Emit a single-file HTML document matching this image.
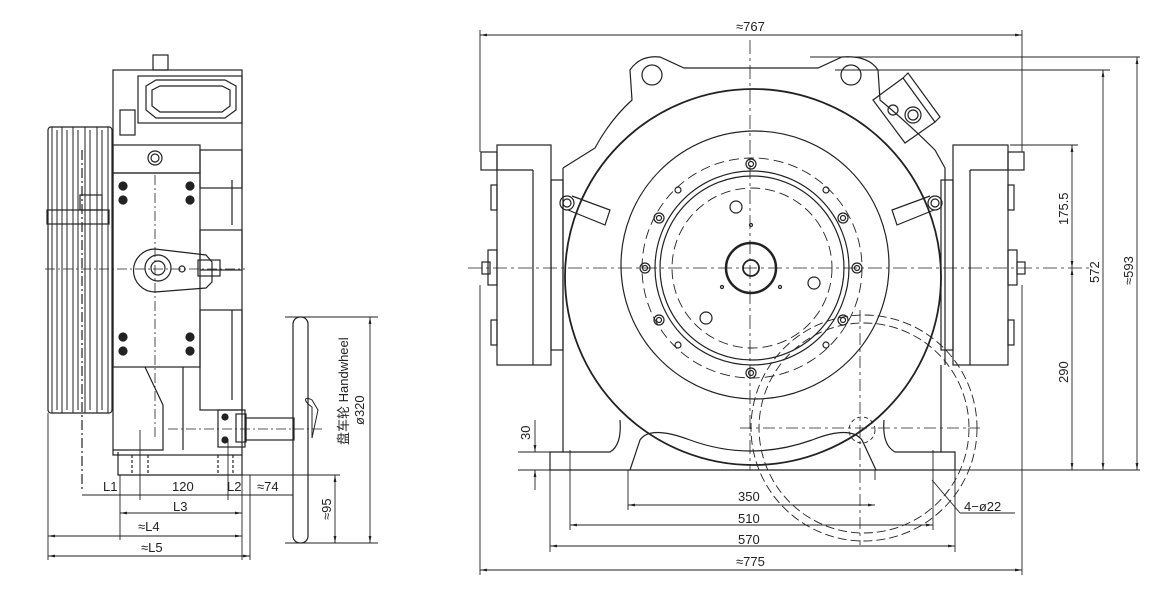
<!DOCTYPE html>
<html><head><meta charset="utf-8"><style>
html,body{margin:0;padding:0;background:#fff;}
svg{display:block;}
text{font-family:"Liberation Sans","Noto Sans CJK SC",sans-serif;font-size:13px;fill:#222;}
</style></head><body>
<svg width="1172" height="592" viewBox="0 0 1172 592" xmlns="http://www.w3.org/2000/svg">
<defs>
<marker id="a" viewBox="0 0 10 10" refX="10" refY="5" markerWidth="8" markerHeight="8" orient="auto-start-reverse"><path d="M0,3 L10,5 L0,7z" fill="#222"/></marker>
</defs>
<g fill="none" stroke="#222" stroke-width="1.2">
<!-- ============ LEFT VIEW ============ -->
<!-- sheave -->
<rect x="48" y="127" width="64" height="286" rx="3"/>
<g stroke-width="1">
<line x1="52" y1="127" x2="52" y2="413"/><line x1="57" y1="130" x2="57" y2="410"/>
<line x1="62" y1="127" x2="62" y2="413"/><line x1="67" y1="130" x2="67" y2="410"/>
<line x1="73" y1="127" x2="73" y2="413"/><line x1="78" y1="130" x2="78" y2="410"/>
<line x1="85" y1="127" x2="85" y2="413"/><line x1="90" y1="130" x2="90" y2="410"/>
<line x1="97" y1="127" x2="97" y2="413"/><line x1="102" y1="130" x2="102" y2="410"/>
<line x1="108" y1="127" x2="108" y2="413"/>
</g>
<rect x="47" y="210" width="62" height="14"/>
<rect x="80" y="195" width="22" height="15"/>
<line x1="82" y1="150" x2="82" y2="490" stroke-dasharray="10,3,2,3"/>
<!-- body -->
<rect x="113" y="70" width="129" height="385"/>
<rect x="153" y="55" width="15" height="15"/>
<rect x="138" y="76" width="104" height="47"/>
<path d="M146,86 L156,80 L225,80 L236,86 L236,110 L225,118 L156,118 L146,110z"/>
<path d="M152,90 L160,86 L222,86 L230,90 L230,106 L222,112 L160,112 L152,106z"/>
<rect x="120" y="110" width="15" height="25"/>
<rect x="113" y="145" width="87" height="28"/>
<circle cx="155" cy="158" r="7"/><circle cx="155" cy="158" r="4"/>
<rect x="113" y="173" width="87" height="194"/>
<rect x="200" y="150" width="42" height="38"/>
<rect x="200" y="230" width="42" height="40"/>
<rect x="200" y="310" width="42" height="100"/>
<line x1="232" y1="180" x2="232" y2="225"/><line x1="232" y1="310" x2="232" y2="400"/>
<g fill="#222"><circle cx="123" cy="186" r="4"/><circle cx="123" cy="200" r="4"/><circle cx="190" cy="186" r="4"/><circle cx="190" cy="200" r="4"/>
<circle cx="123" cy="337" r="4"/><circle cx="123" cy="351" r="4"/><circle cx="190" cy="337" r="4"/><circle cx="190" cy="351" r="4"/></g>
<path d="M155,249 L206,255 L212,262 L212,282 L206,288 L155,292 A21,21 0 0 1 155,249z"/>
<circle cx="158" cy="268" r="13"/><circle cx="158" cy="268" r="7"/>
<circle cx="182" cy="269" r="3"/>
<rect x="198" y="260" width="22" height="16"/>
<line x1="155" y1="175" x2="155" y2="440" stroke-dasharray="10,3,2,3" stroke-width="0.8"/>
<line x1="45" y1="269" x2="245" y2="269" stroke-dasharray="10,3,2,3" stroke-width="0.8"/>
<path d="M145,367 L163,405 L163,450 L113,450"/>
<line x1="183" y1="367" x2="183" y2="450"/>
<path d="M118,452 L118,475 L242,475 L242,455"/>
<line x1="132" y1="455" x2="132" y2="475" stroke-dasharray="3,2"/>
<line x1="148" y1="455" x2="148" y2="475" stroke-dasharray="3,2"/>
<line x1="218" y1="455" x2="218" y2="475" stroke-dasharray="3,2"/>
<line x1="233" y1="455" x2="233" y2="475" stroke-dasharray="3,2"/>
<rect x="218" y="410" width="27" height="37"/>
<rect x="236" y="414" width="10" height="28"/>
<g fill="#222"><circle cx="225" cy="417" r="3"/><circle cx="225" cy="440" r="3"/></g>
<rect x="246" y="418" width="48" height="22"/>
<path d="M312,407 C302,400 305,396 312,400 L318,410 L312,438 Z" stroke-width="1"/>
<rect x="293" y="317" width="15" height="226" rx="7"/>
<line x1="168" y1="429" x2="325" y2="429" stroke-dasharray="10,3,2,3" stroke-width="0.8"/>
<!-- left dims -->
<g stroke-width="0.9">
<line x1="242" y1="475" x2="340" y2="475"/>
<line x1="285" y1="317" x2="378" y2="317"/>
<line x1="285" y1="543" x2="378" y2="543"/>
<line x1="370" y1="317" x2="370" y2="543" marker-start="url(#a)" marker-end="url(#a)"/>
<line x1="335" y1="475" x2="335" y2="543" marker-start="url(#a)" marker-end="url(#a)"/>
<line x1="82" y1="495" x2="293" y2="495"/>
<line x1="140" y1="430" x2="140" y2="500"/><line x1="228" y1="440" x2="228" y2="500"/>
<line x1="120" y1="475" x2="120" y2="540"/><line x1="48" y1="413" x2="48" y2="560"/>
<line x1="242" y1="475" x2="242" y2="560"/><line x1="250" y1="475" x2="250" y2="560"/>
<line x1="120" y1="513" x2="242" y2="513" marker-start="url(#a)" marker-end="url(#a)"/>
<line x1="48" y1="536" x2="242" y2="536" marker-start="url(#a)" marker-end="url(#a)"/>
<line x1="48" y1="556" x2="250" y2="556" marker-start="url(#a)" marker-end="url(#a)"/>
</g>
</g>
<text x="103" y="491">L1</text><text x="172" y="491">120</text><text x="227" y="491" font-size="12">L2</text><text x="257" y="491">≈74</text>
<text x="173" y="511">L3</text><text x="138" y="531">≈L4</text><text x="141" y="552">≈L5</text>
<text transform="translate(331,520) rotate(-90)">≈95</text>
<text transform="translate(348,445) rotate(-90)">盘车轮 Handwheel</text>
<text transform="translate(364,425) rotate(-90)">ø320</text>

<!-- ============ RIGHT VIEW ============ -->
<g fill="none" stroke="#222" stroke-width="1.2">
<!-- housing -->
<path d="M563,168 L595,148 Q610,120 632,100 L630,70 Q640,55 660,57 L684,68 L818,68 L842,57 Q868,55 878,70 L880,100 Q910,125 935,150 L945,168 L945,365"/>
<path d="M563,168 L563,365"/>
<circle cx="652" cy="75" r="10"/><circle cx="851" cy="75" r="10"/>
<!-- junction box -->
<path d="M873,100 L903,78 L935,122 L905,143 Z"/>
<path d="M903,78 L908,73 L940,117 L935,122"/>
<circle cx="893" cy="110" r="5"/><circle cx="913" cy="115" r="8"/><circle cx="913" cy="115" r="5"/>
<!-- circles -->
<circle cx="753" cy="277" r="188" stroke-width="1.8"/>
<circle cx="755" cy="265" r="134"/>
<circle cx="752" cy="268" r="97"/>
<circle cx="752" cy="268" r="92"/>
<circle cx="752" cy="268" r="110" stroke-dasharray="10,5" stroke-width="0.9"/>
<circle cx="752" cy="268" r="80" stroke-dasharray="10,5" stroke-width="0.9"/>
<circle cx="751" cy="268" r="25" stroke-width="2.5"/>
<circle cx="751" cy="268" r="8" stroke-width="1.8"/>
<circle cx="751" cy="225" r="1.5"/><circle cx="722" cy="287" r="1.5"/><circle cx="780" cy="287" r="1.5"/>
<circle cx="736" cy="207" r="6"/><circle cx="814" cy="283" r="6"/><circle cx="706" cy="318" r="6"/>
<g stroke-width="1.2">
<circle cx="751" cy="164" r="5"/><circle cx="751" cy="164" r="2.5"/>
<circle cx="751" cy="373" r="5"/><circle cx="751" cy="373" r="2.5"/>
<circle cx="659" cy="218" r="5"/><circle cx="659" cy="218" r="2.5"/>
<circle cx="843" cy="218" r="5"/><circle cx="843" cy="218" r="2.5"/>
<circle cx="659" cy="320" r="5"/><circle cx="659" cy="320" r="2.5"/>
<circle cx="843" cy="320" r="5"/><circle cx="843" cy="320" r="2.5"/>
<circle cx="645" cy="268" r="5"/><circle cx="645" cy="268" r="2.5"/>
<circle cx="857" cy="268" r="5"/><circle cx="857" cy="268" r="2.5"/>
<circle cx="678" cy="190" r="3"/><circle cx="826" cy="190" r="3"/>
<circle cx="678" cy="345" r="3"/><circle cx="826" cy="345" r="3"/>
</g>
<!-- handwheel dashed -->
<circle cx="864" cy="428" r="113" stroke-dasharray="9,4" stroke-width="0.9"/>
<circle cx="864" cy="428" r="105" stroke-dasharray="9,4" stroke-width="0.9"/>
<circle cx="862" cy="430" r="13" stroke-dasharray="4,3" stroke-width="0.9"/>
<line x1="860" y1="310" x2="860" y2="545" stroke-dasharray="12,4,3,4" stroke-width="0.8"/>
<line x1="740" y1="428" x2="980" y2="428" stroke-dasharray="12,4,3,4" stroke-width="0.8"/>
<!-- brakes -->
<rect x="497" y="145" width="54" height="220"/>
<line x1="533" y1="170" x2="533" y2="365"/><line x1="497" y1="170" x2="533" y2="170"/>
<rect x="953" y="145" width="55" height="220"/>
<line x1="970" y1="170" x2="970" y2="365"/><line x1="970" y1="170" x2="1008" y2="170"/>
<rect x="481" y="152" width="16" height="18"/><rect x="1008" y="152" width="16" height="18"/>
<rect x="488" y="250" width="9" height="35"/><rect x="1008" y="250" width="9" height="35"/>
<rect x="482" y="262" width="8" height="12"/><rect x="1017" y="262" width="8" height="12"/>
<rect x="551" y="180" width="12" height="170"/><rect x="941" y="180" width="12" height="170"/>
<rect x="491" y="185" width="6" height="25"/><rect x="491" y="320" width="6" height="25"/>
<rect x="1008" y="185" width="6" height="25"/><rect x="1008" y="320" width="6" height="25"/>
<circle cx="567" cy="203" r="7"/><circle cx="567" cy="203" r="4"/>
<path d="M572,196 L610,210 L605,225 L568,210"/>
<circle cx="935" cy="203" r="7"/><circle cx="935" cy="203" r="4"/>
<path d="M930,196 L892,210 L897,225 L934,210"/>
<!-- base -->
<path d="M563,365 L563,452 L550,452 L550,470 L955,470 L955,452 L941,452 L941,365"/>
<path d="M563,452 L610,452 Q622,445 620,420"/>
<path d="M941,452 L895,452 Q882,445 884,420"/>
<path d="M630,470 L640,440 Q650,425 690,440 Q750,462 812,440 Q850,425 862,440 L876,470"/>
<!-- center lines -->
<line x1="750" y1="40" x2="750" y2="470" stroke-dasharray="14,4,3,4" stroke-width="0.8"/>
<line x1="468" y1="268" x2="1090" y2="268" stroke-dasharray="14,4,3,4" stroke-width="0.8"/>
<!-- dims -->
<g stroke-width="0.9">
<line x1="480" y1="35" x2="1022" y2="35" marker-start="url(#a)" marker-end="url(#a)"/>
<line x1="480" y1="30" x2="480" y2="152"/><line x1="1022" y1="30" x2="1022" y2="152"/>
<line x1="480" y1="285" x2="480" y2="575"/><line x1="1022" y1="285" x2="1022" y2="575"/>
<line x1="480" y1="570" x2="1022" y2="570" marker-start="url(#a)" marker-end="url(#a)"/>
<line x1="550" y1="470" x2="550" y2="552"/><line x1="955" y1="470" x2="955" y2="552"/>
<line x1="550" y1="546" x2="955" y2="546" marker-start="url(#a)" marker-end="url(#a)"/>
<line x1="570" y1="450" x2="570" y2="530"/><line x1="933" y1="450" x2="933" y2="530"/>
<line x1="570" y1="525" x2="933" y2="525" marker-start="url(#a)" marker-end="url(#a)"/>
<line x1="628" y1="470" x2="628" y2="510"/><line x1="875" y1="470" x2="875" y2="480"/>
<line x1="628" y1="505" x2="875" y2="505" marker-start="url(#a)" marker-end="url(#a)"/>
<line x1="518" y1="452" x2="563" y2="452"/><line x1="518" y1="470" x2="550" y2="470"/>
<line x1="535" y1="420" x2="535" y2="452" marker-end="url(#a)"/>
<line x1="535" y1="490" x2="535" y2="470" marker-end="url(#a)"/>
<line x1="955" y1="470" x2="1140" y2="470"/>
<line x1="810" y1="57" x2="1140" y2="57"/>
<line x1="835" y1="70" x2="1110" y2="70"/>
<line x1="1010" y1="145" x2="1078" y2="145"/>
<line x1="1072" y1="145" x2="1072" y2="268" marker-start="url(#a)" marker-end="url(#a)"/>
<line x1="1072" y1="268" x2="1072" y2="470" marker-start="url(#a)" marker-end="url(#a)"/>
<line x1="1103" y1="70" x2="1103" y2="470" marker-start="url(#a)" marker-end="url(#a)"/>
<line x1="1137" y1="57" x2="1137" y2="470" marker-start="url(#a)" marker-end="url(#a)"/>
<line x1="932" y1="480" x2="960" y2="513"/><line x1="960" y1="513" x2="1015" y2="513"/>
</g>
</g>
<text x="736" y="31">≈767</text>
<text x="738" y="501">350</text><text x="738" y="523">510</text><text x="738" y="544">570</text><text x="736" y="566">≈775</text>
<text transform="translate(530,440) rotate(-90)">30</text>
<text x="964" y="511">4−ø22</text>
<text transform="translate(1068,225) rotate(-90)">175.5</text>
<text transform="translate(1068,383) rotate(-90)">290</text>
<text transform="translate(1099,283) rotate(-90)">572</text>
<text transform="translate(1133,285) rotate(-90)">≈593</text>
</svg>
</body></html>
